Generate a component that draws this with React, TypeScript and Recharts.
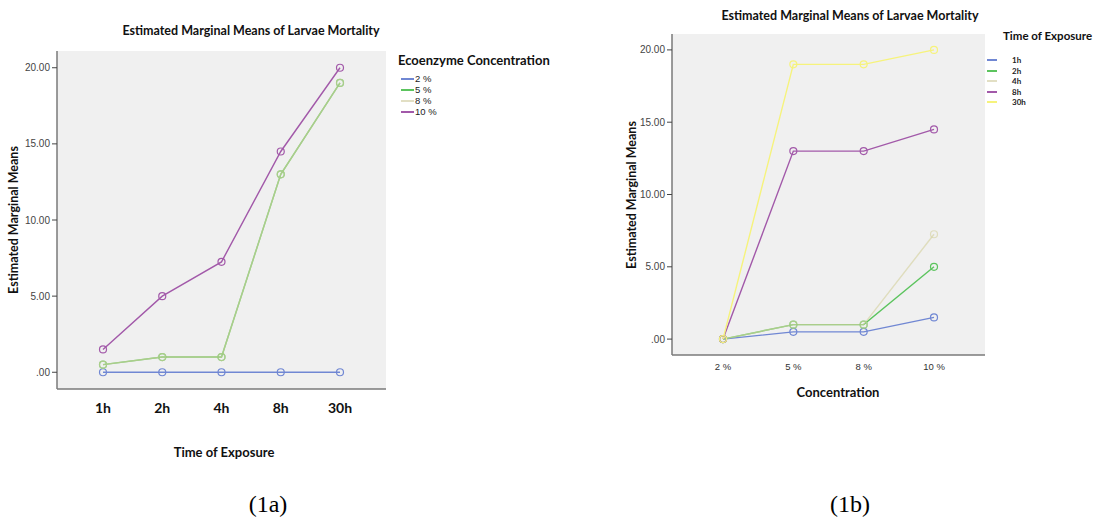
import React from 'react'
import { LineChart, Line, XAxis, YAxis, CartesianGrid } from 'recharts'

// x categories
const timeLabels = ['1h', '2h', '4h', '8h', '30h']
const concLabels = ['2 %', '5 %', '8 %', '10 %']

// (1a) one line per concentration, over time of exposure
const conc2 = [0, 0, 0, 0, 0]
const conc5 = [0.5, 1, 1, 13, 19]
const conc8 = [0.5, 1, 1, 13, 19]
const conc10 = [1.5, 5, 7.25, 14.5, 20]

// (1b) one line per time of exposure, over concentration
const time1h = [0, 0.5, 0.5, 1.5]
const time2h = [0, 1, 1, 5]
const time4h = [0, 1, 1, 7.25]
const time8h = [0, 13, 13, 14.5]
const time30h = [0, 19, 19, 20]

const yTicks = [0, 5, 10, 15, 20]

const BLUE = '#7087d3'
const GREEN = '#5cc45e'
const BEIGE = '#d6d2a2'
const PURPLE = '#a259a9'
const YELLOW = '#f6f37c'

const TITLE_FONT = 'Lato, "Open Sans", sans-serif'
const TICK_FONT = '"Liberation Sans", Arial, sans-serif'

const dataA = timeLabels.map((t, i) => ({
  cat: t,
  c2: conc2[i],
  c5: conc5[i],
  c8: conc8[i],
  c10: conc10[i],
}))

const dataB = concLabels.map((c, i) => ({
  cat: c,
  h1: time1h[i],
  h2: time2h[i],
  h4: time4h[i],
  h8: time8h[i],
  h30: time30h[i],
}))

const fmtY = (v: number) => (v === 0 ? '.00' : v.toFixed(2))

const BoldTick = ({ x, y, payload }: any) => (
  <text x={x} y={y} dy={16} textAnchor="middle" fontFamily={TITLE_FONT} fontWeight={700} fontSize={14} fill="#111">
    {payload.value}
  </text>
)

const SmallTick = ({ x, y, payload }: any) => (
  <text x={x} y={y} dy={7} textAnchor="middle" fontFamily={TICK_FONT} fontSize={9.5} fill="#333">
    {payload.value}
  </text>
)

const seriesLine = (key: string, color: string, opacity = 1) => (
  <Line
    key={key}
    type="linear"
    dataKey={key}
    stroke={color}
    strokeOpacity={opacity}
    strokeWidth={1.4}
    dot={{ r: 3.5, fill: 'none', stroke: color, strokeOpacity: opacity, strokeWidth: 1.2 }}
    activeDot={false}
    isAnimationActive={false}
  />
)

// top and right axes only close the plot frame
const frameAxes = (padX: number) => [
  <XAxis key="xt" xAxisId="top" orientation="top" dataKey="cat" height={0} tick={false} tickLine={false} axisLine={{ stroke: '#7a7a7a', strokeWidth: 1.5 }} padding={{ left: padX, right: padX }} />,
  <YAxis key="yr" yAxisId="right" orientation="right" width={0} tick={false} tickLine={false} axisLine={{ stroke: '#7a7a7a', strokeWidth: 1.5 }} domain={[-1.1, 21.1]} />,
]

const Legend = ({ title, items, left, top, titleSize, itemStyle }: any) => (
  <div style={{ position: 'absolute', left, top }}>
    <div style={{ fontFamily: TITLE_FONT, fontWeight: 700, fontSize: titleSize, color: '#111', whiteSpace: 'nowrap' }}>{title}</div>
    <div style={{ marginTop: itemStyle.gap }}>
      {items.map((it: any) => (
        <div key={it.label} style={{ display: 'flex', alignItems: 'center', height: itemStyle.rowH }}>
          <div style={{ width: itemStyle.lineW, height: 2, background: it.color, marginLeft: itemStyle.lineX }} />
          <span style={{ marginLeft: itemStyle.textGap, fontFamily: itemStyle.font, fontWeight: itemStyle.weight, fontSize: itemStyle.size, color: '#222' }}>
            {it.label}
          </span>
        </div>
      ))}
    </div>
  </div>
)

const RotLabel = ({ text, cx, cy }: any) => (
  <div
    style={{
      position: 'absolute',
      left: cx - 100,
      top: cy - 8,
      width: 200,
      textAlign: 'center',
      transform: 'rotate(-90deg)',
      fontFamily: TITLE_FONT,
      fontWeight: 700,
      fontSize: 12.5,
      color: '#111',
      lineHeight: '16px',
    }}
  >
    {text}
  </div>
)

const Title = ({ text, cx, top }: any) => (
  <div style={{ position: 'absolute', left: cx - 200, top, width: 400, textAlign: 'center', fontFamily: TITLE_FONT, fontWeight: 700, fontSize: 12.5, color: '#111' }}>
    {text}
  </div>
)

export default function App() {
  return (
    <div style={{ position: 'absolute', left: 0, top: 0, width: 1099, height: 520, background: '#fff', overflow: 'hidden' }}>
      {/* (1a) */}
      <Title text="Estimated Marginal Means of Larvae Mortality" cx={251} top={23} />
      <div style={{ position: 'absolute', left: 0, top: 0 }}>
        <LineChart width={400} height={470} data={dataA} margin={{ top: 51, right: 14, bottom: 51, left: 0 }}>
          <CartesianGrid fill="#f0f0f0" horizontal={false} vertical={false} />
          <XAxis dataKey="cat" height={30} padding={{ left: 46, right: 46 }} tick={<BoldTick />} tickLine={false} axisLine={{ stroke: '#7a7a7a', strokeWidth: 1.5 }} />
          <YAxis
            width={57}
            domain={[-1.1, 21.1]}
            ticks={yTicks}
            tickFormatter={fmtY}
            tick={{ fontSize: 10, fill: '#444', fontFamily: TICK_FONT }}
            tickLine={{ stroke: '#444' }}
            tickSize={5}
            axisLine={{ stroke: '#7a7a7a', strokeWidth: 1.5 }}
          />
          {frameAxes(46)}
          {seriesLine('c2', BLUE)}
          {seriesLine('c5', GREEN)}
          {seriesLine('c8', BEIGE, 0.65)}
          {seriesLine('c10', PURPLE)}
        </LineChart>
      </div>
      <RotLabel text="Estimated Marginal Means" cx={14} cy={220} />
      <div style={{ position: 'absolute', left: 124, top: 444, width: 200, textAlign: 'center', fontFamily: TITLE_FONT, fontWeight: 700, fontSize: 13, color: '#111' }}>
        Time of Exposure
      </div>
      <Legend
        title="Ecoenzyme Concentration"
        left={398}
        top={52}
        titleSize={13}
        items={[
          { label: '2 %', color: BLUE },
          { label: '5 %', color: GREEN },
          { label: '8 %', color: '#e2dfc4' },
          { label: '10 %', color: PURPLE },
        ]}
        itemStyle={{ gap: 5, rowH: 11, lineW: 13, lineX: 3, textGap: 1, font: TICK_FONT, weight: 400, size: 9.5 }}
      />

      {/* (1b) */}
      <Title text="Estimated Marginal Means of Larvae Mortality" cx={850} top={8} />
      <div style={{ position: 'absolute', left: 600, top: 0 }}>
        <LineChart width={400} height={420} data={dataB} margin={{ top: 34, right: 15, bottom: 35, left: 0 }}>
          <CartesianGrid fill="#f0f0f0" horizontal={false} vertical={false} />
          <XAxis dataKey="cat" height={30} padding={{ left: 51, right: 51 }} tick={<SmallTick />} tickLine={false} axisLine={{ stroke: '#7a7a7a', strokeWidth: 1.5 }} />
          <YAxis
            width={72}
            domain={[-1.1, 21.1]}
            ticks={yTicks}
            tickFormatter={fmtY}
            tick={{ fontSize: 10, fill: '#444', fontFamily: TICK_FONT }}
            tickLine={{ stroke: '#444' }}
            tickSize={5}
            axisLine={{ stroke: '#7a7a7a', strokeWidth: 1.5 }}
          />
          {frameAxes(51)}
          {seriesLine('h1', BLUE)}
          {seriesLine('h2', GREEN)}
          {seriesLine('h4', BEIGE, 0.65)}
          {seriesLine('h8', PURPLE)}
          {seriesLine('h30', YELLOW)}
        </LineChart>
      </div>
      <RotLabel text="Estimated Marginal Means" cx={632} cy={195} />
      <div style={{ position: 'absolute', left: 738, top: 384, width: 200, textAlign: 'center', fontFamily: TITLE_FONT, fontWeight: 700, fontSize: 13, color: '#111' }}>
        Concentration
      </div>
      <Legend
        title="Time of Exposure"
        left={1003}
        top={29}
        titleSize={11.5}
        items={[
          { label: '1h', color: BLUE },
          { label: '2h', color: GREEN },
          { label: '4h', color: '#e2dfc4' },
          { label: '8h', color: PURPLE },
          { label: '30h', color: YELLOW },
        ]}
        itemStyle={{ gap: 13, rowH: 10.5, lineW: 10, lineX: -16, textGap: 15, font: TITLE_FONT, weight: 700, size: 8 }}
      />

      {/* captions */}
      <div style={{ position: 'absolute', left: 218, top: 491, width: 100, textAlign: 'center', fontFamily: '"Liberation Serif", serif', fontSize: 24, color: '#000' }}>
        (1a)
      </div>
      <div style={{ position: 'absolute', left: 800, top: 491, width: 100, textAlign: 'center', fontFamily: '"Liberation Serif", serif', fontSize: 24, color: '#000' }}>
        (1b)
      </div>
    </div>
  )
}
